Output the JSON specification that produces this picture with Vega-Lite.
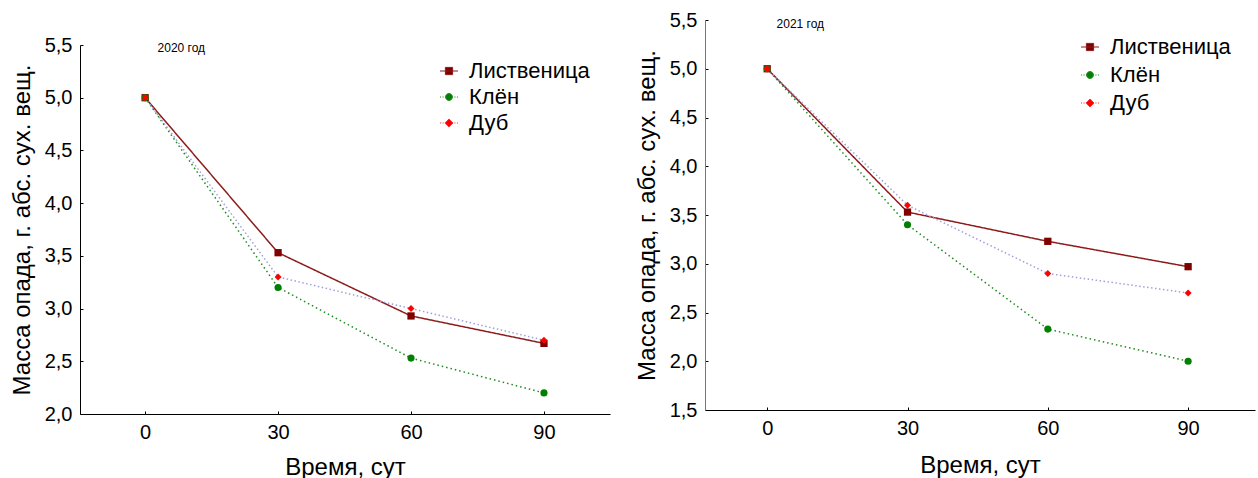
{
  "$schema": "https://vega.github.io/schema/vega-lite/v6.json",
  "padding": {"left": 10, "top": 10, "right": 2, "bottom": -19},
  "spacing": 25,
  "center": true,
  "config": {
    "font": "Liberation Sans",
    "view": {"stroke": null},
    "axis": {
      "grid": false,
      "domainColor": "#000000",
      "domainWidth": 1,
      "tickColor": "#000000",
      "tickSize": -3,
      "labelPadding": 11,
      "labelFontSize": 20,
      "labelColor": "#000000",
      "titleFontSize": 24,
      "titleFontWeight": "normal",
      "titleColor": "#000000"
    },
    "legend": {
      "labelFontSize": 22,
      "labelColor": "#000000",
      "symbolSize": 324,
      "symbolStrokeWidth": 1,
      "labelOffset": 9
    }
  },
  "datasets": {
    "d2020": [
      {"day": 0, "species": "Лиственица", "mass": 5.0},
      {"day": 30, "species": "Лиственица", "mass": 3.53},
      {"day": 60, "species": "Лиственица", "mass": 2.93},
      {"day": 90, "species": "Лиственица", "mass": 2.67},
      {"day": 0, "species": "Клён", "mass": 5.0},
      {"day": 30, "species": "Клён", "mass": 3.2},
      {"day": 60, "species": "Клён", "mass": 2.53},
      {"day": 90, "species": "Клён", "mass": 2.2},
      {"day": 0, "species": "Дуб", "mass": 5.0},
      {"day": 30, "species": "Дуб", "mass": 3.3},
      {"day": 60, "species": "Дуб", "mass": 3.0},
      {"day": 90, "species": "Дуб", "mass": 2.7}
    ],
    "d2021": [
      {"day": 0, "species": "Лиственица", "mass": 5.0},
      {"day": 30, "species": "Лиственица", "mass": 3.53},
      {"day": 60, "species": "Лиственица", "mass": 3.23},
      {"day": 90, "species": "Лиственица", "mass": 2.97},
      {"day": 0, "species": "Клён", "mass": 5.0},
      {"day": 30, "species": "Клён", "mass": 3.4},
      {"day": 60, "species": "Клён", "mass": 2.33},
      {"day": 90, "species": "Клён", "mass": 2.0},
      {"day": 0, "species": "Дуб", "mass": 5.0},
      {"day": 30, "species": "Дуб", "mass": 3.6},
      {"day": 60, "species": "Дуб", "mass": 2.9},
      {"day": 90, "species": "Дуб", "mass": 2.7}
    ]
  },
  "hconcat": [
    {
      "width": 530,
      "height": 369,
      "data": {"name": "d2020"},
      "resolve": {"scale": {"shape": "independent", "stroke": "independent", "fill": "independent", "color": "independent", "size": "independent", "strokeDash": "independent", "strokeWidth": "independent"}},
      "layer": [
        {
          "mark": {"type": "line"},
          "encoding": {
            "x": {"field": "day", "type": "quantitative", "scale": {"domain": [-14.7, 104.9], "nice": false, "zero": false}, "axis": {"values": [0, 30, 60, 90], "title": "Время, сут", "titlePadding": 13}},
            "y": {"field": "mass", "type": "quantitative", "scale": {"domain": [2.0, 5.5], "nice": false, "zero": false}, "axis": {"values": [2.0, 2.5, 3.0, 3.5, 4.0, 4.5, 5.0, 5.5], "labelExpr": "replace(format(datum.value, '.1f'), '.', ',')", "title": "Масса опада, г. абс. сух. вещ.", "titlePadding": 10}},
            "stroke": {"field": "species", "type": "nominal", "scale": {"domain": ["Лиственица", "Клён", "Дуб"], "range": ["#8e1b1b", "#1f8a1f", "#a0a0dc"]}, "legend": null},
            "strokeDash": {"field": "species", "type": "nominal", "scale": {"domain": ["Лиственица", "Клён", "Дуб"], "range": [[1, 0], [1.5, 3], [1.5, 2.5]]}, "legend": null},
            "strokeWidth": {"field": "species", "type": "nominal", "scale": {"domain": ["Лиственица", "Клён", "Дуб"], "range": [1.5, 1.5, 1.2]}, "legend": null}
          }
        },
        {
          "mark": {"type": "point", "filled": true, "opacity": 1},
          "encoding": {
            "x": {"field": "day", "type": "quantitative", "scale": {"domain": [-14.7, 104.9], "nice": false, "zero": false}},
            "y": {"field": "mass", "type": "quantitative", "scale": {"domain": [2.0, 5.5], "nice": false, "zero": false}},
            "fill": {"field": "species", "type": "nominal", "scale": {"domain": ["Лиственица", "Клён", "Дуб"], "range": ["#800000", "#008000", "#ff0000"]}, "legend": null},
            "shape": {"field": "species", "type": "nominal", "scale": {"domain": ["Лиственица", "Клён", "Дуб"], "range": ["square", "circle", "diamond"]}, "legend": null},
            "size": {"field": "species", "type": "nominal", "scale": {"domain": ["Лиственица", "Клён", "Дуб"], "range": [53, 49, 64]}, "legend": null}
          }
        },
        {
          "data": {"values": [{"label": "2020 год", "x": 2.8, "y": 5.47}]},
          "mark": {"type": "text", "align": "left", "baseline": "middle", "fontSize": 12, "color": "#000000"},
          "encoding": {
            "x": {"field": "x", "type": "quantitative", "scale": {"domain": [-14.7, 104.9], "nice": false, "zero": false}},
            "y": {"field": "y", "type": "quantitative", "scale": {"domain": [2.0, 5.5], "nice": false, "zero": false}},
            "text": {"field": "label"}
          }
        },
        {
          "data": {"values": []},
          "mark": {"type": "point", "filled": true, "opacity": 1},
          "encoding": {
            "color": {"field": "species", "type": "nominal", "scale": {"domain": ["Лиственица", "Клён", "Дуб"], "range": ["#800000", "#008000", "#ff0000"]}, "legend": {"title": null, "orient": "none", "legendX": 358, "legendY": 15, "rowPadding": 4}},
            "stroke": {"field": "species", "type": "nominal", "scale": {"domain": ["Лиственица", "Клён", "Дуб"], "range": ["#8e1b1b", "#1f8a1f", "#ff3030"]}, "legend": {"title": null, "orient": "none", "legendX": 358, "legendY": 15, "rowPadding": 4}},
            "shape": {
              "field": "species", "type": "nominal",
              "scale": {"domain": ["Лиственица", "Клён", "Дуб"], "range": [
                "M-1,0H1M-0.4,-0.4H0.4V0.4H-0.4Z",
                "M-1,0H-0.88M-0.72,0H-0.6M0.6,0H0.72M0.88,0H1M-0.38,0A0.38,0.38,0,1,0,0.38,0A0.38,0.38,0,1,0,-0.38,0Z",
                "M-1,0H-0.88M-0.72,0H-0.6M0.6,0H0.72M0.88,0H1M0,-0.45L0.45,0L0,0.45L-0.45,0Z"
              ]},
              "legend": {"title": null, "orient": "none", "legendX": 358, "legendY": 15, "rowPadding": 4}
            }
          }
        }
      ]
    },
    {
      "width": 550,
      "height": 390,
      "title": {"text": " ", "orient": "bottom", "fontSize": 13, "offset": 14},
      "data": {"name": "d2021"},
      "resolve": {"scale": {"shape": "independent", "stroke": "independent", "fill": "independent", "color": "independent", "size": "independent", "strokeDash": "independent", "strokeWidth": "independent"}},
      "layer": [
        {
          "mark": {"type": "line"},
          "encoding": {
            "x": {"field": "day", "type": "quantitative", "scale": {"domain": [-13.3, 104.3], "nice": false, "zero": false}, "axis": {"values": [0, 30, 60, 90], "title": "Время, сут", "titlePadding": 15}},
            "y": {"field": "mass", "type": "quantitative", "scale": {"domain": [1.5, 5.5], "nice": false, "zero": false}, "axis": {"values": [1.5, 2.0, 2.5, 3.0, 3.5, 4.0, 4.5, 5.0, 5.5], "labelExpr": "replace(format(datum.value, '.1f'), '.', ',')", "title": "Масса опада, г. абс. сух. вещ.", "titlePadding": 10, "domainColor": "#777777"}},
            "stroke": {"field": "species", "type": "nominal", "scale": {"domain": ["Лиственица", "Клён", "Дуб"], "range": ["#8e1b1b", "#1f8a1f", "#a0a0dc"]}, "legend": null},
            "strokeDash": {"field": "species", "type": "nominal", "scale": {"domain": ["Лиственица", "Клён", "Дуб"], "range": [[1, 0], [1.5, 3], [1.5, 2.5]]}, "legend": null},
            "strokeWidth": {"field": "species", "type": "nominal", "scale": {"domain": ["Лиственица", "Клён", "Дуб"], "range": [1.5, 1.5, 1.2]}, "legend": null}
          }
        },
        {
          "mark": {"type": "point", "filled": true, "opacity": 1},
          "encoding": {
            "x": {"field": "day", "type": "quantitative", "scale": {"domain": [-13.3, 104.3], "nice": false, "zero": false}},
            "y": {"field": "mass", "type": "quantitative", "scale": {"domain": [1.5, 5.5], "nice": false, "zero": false}},
            "fill": {"field": "species", "type": "nominal", "scale": {"domain": ["Лиственица", "Клён", "Дуб"], "range": ["#800000", "#008000", "#ff0000"]}, "legend": null},
            "shape": {"field": "species", "type": "nominal", "scale": {"domain": ["Лиственица", "Клён", "Дуб"], "range": ["square", "circle", "diamond"]}, "legend": null},
            "size": {"field": "species", "type": "nominal", "scale": {"domain": ["Лиственица", "Клён", "Дуб"], "range": [53, 49, 64]}, "legend": null}
          }
        },
        {
          "data": {"values": [{"label": "2021 год", "x": 2.0, "y": 5.46}]},
          "mark": {"type": "text", "align": "left", "baseline": "middle", "fontSize": 12, "color": "#000000"},
          "encoding": {
            "x": {"field": "x", "type": "quantitative", "scale": {"domain": [-13.3, 104.3], "nice": false, "zero": false}},
            "y": {"field": "y", "type": "quantitative", "scale": {"domain": [1.5, 5.5], "nice": false, "zero": false}},
            "text": {"field": "label"}
          }
        },
        {
          "data": {"values": []},
          "mark": {"type": "point", "filled": true, "opacity": 1},
          "encoding": {
            "color": {"field": "species", "type": "nominal", "scale": {"domain": ["Лиственица", "Клён", "Дуб"], "range": ["#800000", "#008000", "#ff0000"]}, "legend": {"title": null, "orient": "none", "legendX": 374, "legendY": 16, "rowPadding": 6}},
            "stroke": {"field": "species", "type": "nominal", "scale": {"domain": ["Лиственица", "Клён", "Дуб"], "range": ["#8e1b1b", "#1f8a1f", "#ff3030"]}, "legend": {"title": null, "orient": "none", "legendX": 374, "legendY": 16, "rowPadding": 6}},
            "shape": {
              "field": "species", "type": "nominal",
              "scale": {"domain": ["Лиственица", "Клён", "Дуб"], "range": [
                "M-1,0H1M-0.4,-0.4H0.4V0.4H-0.4Z",
                "M-1,0H-0.88M-0.72,0H-0.6M0.6,0H0.72M0.88,0H1M-0.38,0A0.38,0.38,0,1,0,0.38,0A0.38,0.38,0,1,0,-0.38,0Z",
                "M-1,0H-0.88M-0.72,0H-0.6M0.6,0H0.72M0.88,0H1M0,-0.45L0.45,0L0,0.45L-0.45,0Z"
              ]},
              "legend": {"title": null, "orient": "none", "legendX": 374, "legendY": 16, "rowPadding": 6}
            }
          }
        }
      ]
    }
  ]
}
